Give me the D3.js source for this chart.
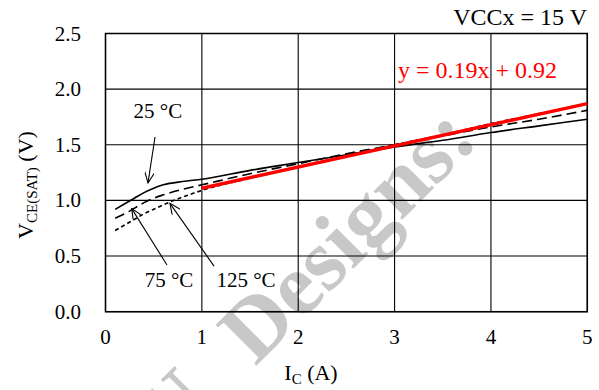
<!DOCTYPE html>
<html><head><meta charset="utf-8">
<script src="https://cdn.jsdelivr.net/npm/d3@7"></script>
<style>
html,body{margin:0;padding:0;background:#fff;}
text{font-family:"Liberation Serif","Times New Roman",Tinos,Times,serif;}
</style></head>
<body>
<svg id="chart" width="599" height="390"></svg>
<script>
// ---- data ----
const xTicks = [0, 1, 2, 3, 4, 5];
const yTicks = [0.0, 0.5, 1.0, 1.5, 2.0, 2.5];
const yTickLabels = ["0.0", "0.5", "1.0", "1.5", "2.0", "2.5"];
const ic = [0.1, 0.2, 0.3, 0.4, 0.5, 0.6, 0.8, 1.0, 1.5, 2.0, 2.5, 3.0, 3.5, 4.0, 4.5, 5.0];
const v25  = [0.92, 0.97, 1.02, 1.07, 1.11, 1.14, 1.17, 1.19, 1.27, 1.34, 1.41, 1.48, 1.54, 1.61, 1.67, 1.73];
const v75  = [0.84, 0.88, 0.93, 0.98, 1.02, 1.05, 1.10, 1.14, 1.24, 1.33, 1.42, 1.50, 1.58, 1.66, 1.73, 1.81];
const v125 = [0.73, 0.78, 0.83, 0.88, 0.92, 0.96, 1.03, 1.09, 1.20, 1.30, 1.40, 1.50, 1.59, 1.69, 1.78, 1.87];
const fitSlope = 0.19, fitIntercept = 0.92, fitRange = [1, 5];
const fitLabel = "y = 0.19x + 0.92";
const condLabel = "VCCx = 15 V";
// annotations: [label, labelX, labelY, arrowFromX, arrowFromY, arrowToX, arrowToY]
const annotations = [
  ["25 °C", 0.544, 1.74, 0.514, 1.57, 0.441, 1.157],
  ["75 °C", 0.659, 0.222, 0.638, 0.42, 0.272, 0.926],
  ["125 °C", 1.458, 0.222, 1.126, 0.41, 0.669, 0.974]
];
const watermarkMain = "Designs:";
const watermarkLead = "U";

// ---- layout ----
const svg = d3.select("#chart");
const L = 105.5, T = 33.5, W = 481.8, H = 278.2;
const x = d3.scaleLinear().domain([0, 5]).range([L, L + W]);
const y = d3.scaleLinear().domain([0, 2.5]).range([T + H, T]);

// watermark (behind)
const wm = svg.append("g").attr("transform", "translate(480,142) rotate(-45)")
  .attr("font-size", 88).attr("font-weight", "bold").attr("fill", "#c8c8c8");
wm.append("text").attr("text-anchor", "end").text(watermarkMain);
wm.append("text").attr("text-anchor", "end").attr("x", -372).text(watermarkLead);

// grid
const g = svg.append("g");
g.selectAll(".vg").data(xTicks).enter().append("line")
  .attr("x1", d => x(d)).attr("x2", d => x(d)).attr("y1", T).attr("y2", T + H)
  .attr("stroke", "#000").attr("stroke-width", 1.1);
g.selectAll(".hg").data(yTicks).enter().append("line")
  .attr("x1", L).attr("x2", L + W).attr("y1", d => y(d)).attr("y2", d => y(d))
  .attr("stroke", "#000").attr("stroke-width", 1.1);
g.append("rect").attr("x", L).attr("y", T).attr("width", W).attr("height", H)
  .attr("fill", "none").attr("stroke", "#000").attr("stroke-width", 1.5);

// tick labels
svg.selectAll(".xt").data(xTicks).enter().append("text")
  .attr("x", d => x(d)).attr("y", T + H + 32)
  .attr("text-anchor", "middle").attr("font-size", 21).text(d => d);
svg.selectAll(".yt").data(yTicks).enter().append("text")
  .attr("x", 81).attr("y", d => y(d) + 7)
  .attr("text-anchor", "end").attr("font-size", 21).text((d, i) => yTickLabels[i]);

// axis titles
const xt = svg.append("text").attr("x", 311).attr("y", 380).attr("text-anchor", "middle").attr("font-size", 22);
xt.append("tspan").text("I");
xt.append("tspan").attr("font-size", 15).attr("dy", 4).text("C");
xt.append("tspan").attr("dy", -4).text(" (A)");

const yt = svg.append("text").attr("transform", "translate(33,185) rotate(-90)").attr("text-anchor", "middle").attr("font-size", 22);
yt.append("tspan").text("V");
yt.append("tspan").attr("font-size", 15).attr("dy", 4).text("CE(SAT)");
yt.append("tspan").attr("dy", -4).text(" (V)");

// curves
const line = d3.line().x(d => x(d[0])).y(d => y(d[1])).curve(d3.curveMonotoneX);
const series = [
  {v: v25, dash: null},
  {v: v75, dash: "10,5"},
  {v: v125, dash: "4,3"}
];
series.forEach(s => {
  svg.append("path").datum(ic.map((c, i) => [c, s.v[i]]))
    .attr("d", line).attr("fill", "none").attr("stroke", "#000")
    .attr("stroke-width", 1.6).attr("stroke-dasharray", s.dash);
});

// fit line
svg.append("line")
  .attr("x1", x(fitRange[0])).attr("y1", y(fitSlope * fitRange[0] + fitIntercept))
  .attr("x2", x(fitRange[1])).attr("y2", y(fitSlope * fitRange[1] + fitIntercept))
  .attr("stroke", "#ff0000").attr("stroke-width", 3.5);

svg.append("text").attr("x", 557).attr("y", 78).attr("text-anchor", "end")
  .attr("font-size", 24).attr("fill", "#ff0000").text(fitLabel);
svg.append("text").attr("x", 587).attr("y", 25).attr("text-anchor", "end")
  .attr("font-size", 24).attr("fill", "#000").text(condLabel);

// annotations with open arrowheads
svg.append("defs").append("marker").attr("id", "arr")
  .attr("viewBox", "0 0 12 10").attr("refX", 11).attr("refY", 5)
  .attr("markerWidth", 12).attr("markerHeight", 10).attr("markerUnits", "userSpaceOnUse")
  .attr("orient", "auto")
  .append("path").attr("d", "M0,0 L11,5 L0,10").attr("fill", "none").attr("stroke", "#000").attr("stroke-width", 1.1);

annotations.forEach(a => {
  svg.append("text").attr("x", x(a[1])).attr("y", y(a[2])).attr("text-anchor", "middle")
    .attr("font-size", 21).text(a[0]);
  svg.append("line").attr("x1", x(a[3])).attr("y1", y(a[4])).attr("x2", x(a[5])).attr("y2", y(a[6]))
    .attr("stroke", "#000").attr("stroke-width", 1.1).attr("marker-end", "url(#arr)");
});
</script>
</body></html>
